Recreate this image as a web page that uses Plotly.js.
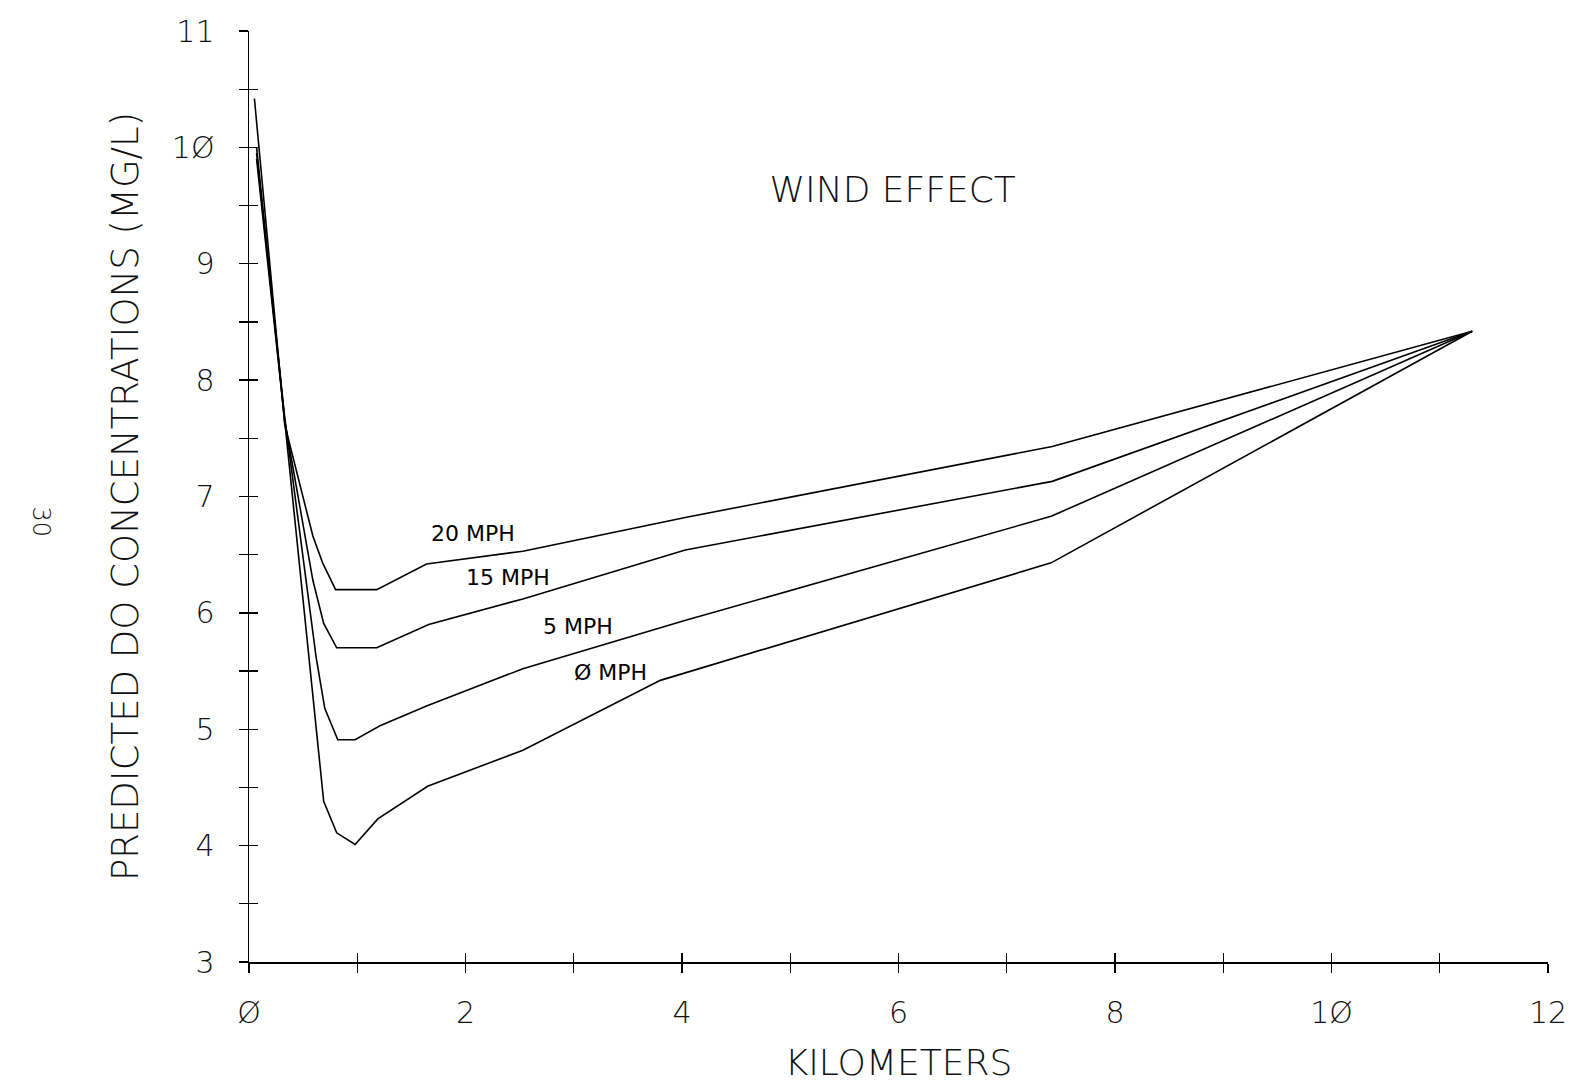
<!DOCTYPE html>
<html>
<head>
<meta charset="utf-8">
<script src="https://cdn.plot.ly/plotly-3.0.1.min.js"></script>
<style>html,body{margin:0;padding:0;background:#fff;}#chart{width:1580px;height:1083px;}</style>
</head>
<body>
<div id="chart"></div>
<script>
// Data (km, mg/L)
const km20 = [0.05, 0.33, 0.59, 0.68, 0.80, 1.18, 1.64, 2.53, 4.03, 7.42, 11.30];
const do20 = [10.42, 7.62, 6.66, 6.43, 6.20, 6.20, 6.42, 6.53, 6.82, 7.43, 8.42];

const km15 = [0.07, 0.33, 0.59, 0.69, 0.81, 1.18, 1.66, 2.53, 4.03, 7.42, 11.30];
const do15 = [10.0, 7.65, 6.28, 5.91, 5.70, 5.70, 5.90, 6.12, 6.54, 7.13, 8.42];

const km5 = [0.07, 0.33, 0.62, 0.70, 0.82, 0.98, 1.21, 1.64, 2.53, 4.01, 7.41, 11.30];
const do5 = [9.95, 7.68, 5.62, 5.18, 4.91, 4.91, 5.03, 5.20, 5.52, 5.93, 6.83, 8.42];

const km0 = [0.07, 0.33, 0.69, 0.81, 0.98, 1.19, 1.65, 2.53, 3.80, 7.41, 11.30];
const do0 = [9.9, 7.65, 4.38, 4.11, 4.01, 4.23, 4.51, 4.82, 5.42, 6.43, 8.42];

const seriesNames = ["20 MPH", "15 MPH", "5 MPH", "Ø MPH"];
const labelKm = [2.07, 2.39, 3.04, 3.34];
const labelDo = [6.68, 6.30, 5.88, 5.49];

const xTickVals = [0, 2, 4, 6, 8, 10, 12];
const xTickText = ["Ø", "2", "4", "6", "8", "1Ø", "12"];
const yTickVals = [3, 4, 5, 6, 7, 8, 9, 10, 11];
const yTickText = ["3", "4", "5", "6", "7", "8", "9", "1Ø", "11"];

const FONT = "DejaVu Sans, sans-serif";
const INK = "#111";

const lineStyle = {color: "#000", width: 1.6};
const traces = [
  {x: km20, y: do20, name: seriesNames[0], mode: "lines", line: lineStyle},
  {x: km15, y: do15, name: seriesNames[1], mode: "lines", line: lineStyle},
  {x: km5,  y: do5,  name: seriesNames[2], mode: "lines", line: lineStyle},
  {x: km0,  y: do0,  name: seriesNames[3], mode: "lines", line: lineStyle},
  // invisible helper so the overlaying tick axes (inner half of the crossing ticks) are drawn
  {x: [0], y: [3], xaxis: "x2", yaxis: "y2", mode: "markers", marker: {opacity: 0, size: 1},
   showlegend: false, hoverinfo: "skip"}
];

const annotations = seriesNames.map((n, i) => ({
  x: labelKm[i], y: labelDo[i], xref: "x", yref: "y", text: n, showarrow: false,
  font: {family: FONT, size: 22, color: "#000"}
}));
annotations.push({
  x: -0.1605, y: 0.4726, xref: "paper", yref: "paper", text: "30", showarrow: false,
  xanchor: "center", yanchor: "middle",
  textangle: 90, font: {family: FONT, size: 24, color: INK, weight: 200}
});

const tickCommon = {tickcolor: "#000", tickwidth: 1.3, ticklen: 9};

const layout = {
  width: 1580, height: 1083,
  margin: {l: 249, r: 32, t: 31, b: 121},
  paper_bgcolor: "#fff", plot_bgcolor: "#fff",
  showlegend: false,
  title: {
    text: "WIND EFFECT", xref: "container", yref: "container",
    x: 0.565, y: 0.825, xanchor: "center", yanchor: "middle",
    font: {family: FONT, size: 36, color: INK, weight: 200}
  },
  xaxis: Object.assign({
    range: [0, 12], tickvals: xTickVals, ticktext: xTickText,
    showgrid: false, zeroline: false, showline: true, linecolor: "#000", linewidth: 1.5,
    ticks: "outside",
    minor: Object.assign({dtick: 1, ticks: "outside"}, tickCommon),
    ticklabelstandoff: 14,
    tickfont: {family: FONT, size: 30, color: INK, weight: 200},
    title: {text: "KILOMETERS", standoff: 24, font: {family: FONT, size: 36, color: INK, weight: 200}}
  }, tickCommon),
  yaxis: Object.assign({
    range: [3, 11], tickvals: yTickVals, ticktext: yTickText,
    showgrid: false, zeroline: false, showline: true, linecolor: "#000", linewidth: 1.5,
    ticks: "outside",
    minor: Object.assign({dtick: 0.5, ticks: "outside"}, tickCommon),
    ticklabelstandoff: 18,
    tickfont: {family: FONT, size: 30, color: INK, weight: 200},
    title: {text: "PREDICTED DO CONCENTRATIONS (MG/L)", standoff: 22, font: {family: FONT, size: 37, color: INK, weight: 200}}
  }, tickCommon),
  xaxis2: Object.assign({
    overlaying: "x", anchor: "y2", range: [0, 12], showticklabels: false,
    showgrid: false, zeroline: false, showline: false,
    ticks: "inside", dtick: 1, tick0: 0
  }, tickCommon),
  yaxis2: Object.assign({
    overlaying: "y", anchor: "x2", range: [3, 11], showticklabels: false,
    showgrid: false, zeroline: false, showline: false,
    ticks: "inside", dtick: 0.5, tick0: 3
  }, tickCommon),
  annotations: annotations
};

Plotly.newPlot("chart", traces, layout, {displayModeBar: false, staticPlot: true});
</script>
</body>
</html>
